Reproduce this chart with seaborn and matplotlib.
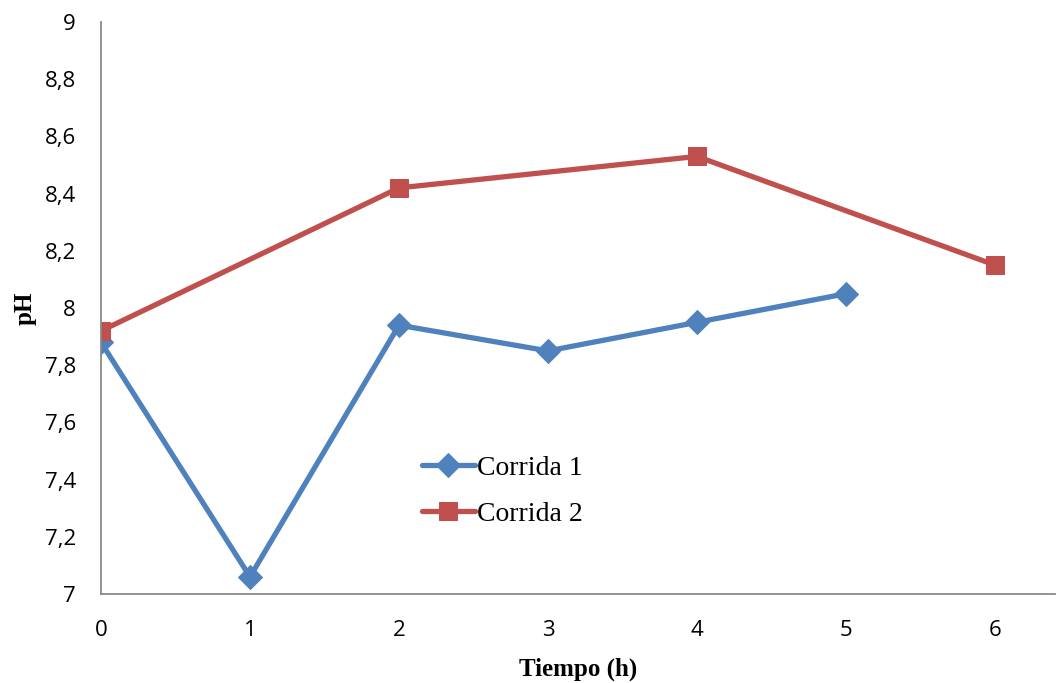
import matplotlib
matplotlib.use("Agg")
import matplotlib.pyplot as plt
import seaborn as sns
import pandas as pd

t1 = [0, 1, 2, 3, 4, 5]
ph1 = [7.88, 7.06, 7.94, 7.85, 7.95, 8.05]
t2 = [0, 2, 4, 6]
ph2 = [7.92, 8.42, 8.53, 8.15]
series_names = ["Corrida 1", "Corrida 2"]
xticks = [0, 1, 2, 3, 4, 5, 6]
yticks = [7, 7.2, 7.4, 7.6, 7.8, 8, 8.2, 8.4, 8.6, 8.8, 9]

sns.set_style("white")
plt.rcParams['font.family'] = ['Open Sans', 'DejaVu Sans']
plt.rcParams['text.color'] = 'black'
plt.rcParams['axes.labelcolor'] = 'black'
plt.rcParams['xtick.color'] = 'black'
plt.rcParams['ytick.color'] = 'black'

fig = plt.figure(figsize=(10.57, 6.83), dpi=100)
ax = fig.add_axes([101/1057, 1-594/683, (1055-101)/1057, (594-22)/683])

d1 = pd.DataFrame({"t": t1, "ph": ph1})
d2 = pd.DataFrame({"t": t2, "ph": ph2})
sns.lineplot(data=d1, x="t", y="ph", ax=ax, color="#4F81BD", lw=3.8,
             marker="D", markersize=12, markeredgecolor="#4F81BD",
             label=series_names[0])
sns.lineplot(data=d2, x="t", y="ph", ax=ax, color="#C0504D", lw=3.8,
             marker="s", markersize=13.5, markeredgecolor="#C0504D",
             label=series_names[1])

ax.set_xlim(0, (1055-101)/149)
ax.set_ylim(7, 9)
ax.set_xticks(xticks)
ax.set_yticks(yticks)
ax.set_yticklabels([f"{v:g}".replace(".", ",") for v in yticks], fontsize=16)
ax.set_xticklabels([str(v) for v in xticks], fontsize=16)
ax.tick_params(axis="y", length=0, pad=18, labelcolor="black")
ax.tick_params(axis="x", length=0, pad=19, labelcolor="black")
for s in ["top", "right"]:
    ax.spines[s].set_visible(False)
for s in ["left", "bottom"]:
    ax.spines[s].set_color("#898989")
    ax.spines[s].set_linewidth(1.3)

ax.set_xlabel("Tiempo (h)", fontsize=18, fontweight="bold",
              family="Liberation Serif", labelpad=12, color="black")
ax.set_ylabel("pH", fontsize=18, fontweight="bold",
              family="Liberation Serif", color="black")
ax.yaxis.set_label_coords(-0.068, 0.5)

leg = ax.legend(loc="center left", bbox_to_anchor=(0.310, 0.18), frameon=False,
                prop={"family": "Liberation Serif", "size": 20},
                handlelength=1.9, handletextpad=0.08, labelspacing=0.75,
                labelcolor="black")

fig.savefig("out.png", dpi=100)
